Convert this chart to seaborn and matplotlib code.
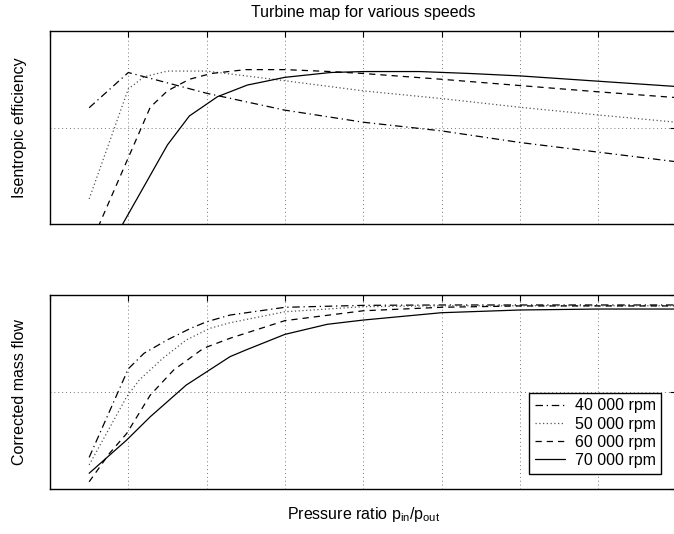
import numpy as np
import pandas as pd
import seaborn as sns
import matplotlib
matplotlib.use("Agg")
import matplotlib.pyplot as plt

# Dữ liệu (tỉ số áp suất -> hiệu suất / lưu lượng)
speeds = ["40 000 rpm", "50 000 rpm", "60 000 rpm", "70 000 rpm"]

eff_x_40 = [1.25, 1.5, 2.0, 2.5, 3.0, 3.5, 4.0, 4.5, 5.0]
eff_y_40 = [0.641, 0.714, 0.671, 0.636, 0.611, 0.593, 0.569, 0.549, 0.529]
eff_x_50 = [1.25, 1.5, 1.6, 1.75, 2.0, 2.1, 2.5, 3.0, 3.5, 4.0, 4.5, 5.0]
eff_y_50 = [0.452, 0.68, 0.705, 0.717, 0.717, 0.713, 0.697, 0.676, 0.660, 0.642, 0.626, 0.611]
eff_x_60 = [1.25, 1.64, 1.75, 1.89, 2.03, 2.25, 2.5, 2.79, 3.0, 3.5, 4.0, 4.5, 5.0]
eff_y_60 = [0.351, 0.642, 0.676, 0.700, 0.712, 0.720, 0.720, 0.716, 0.712, 0.700, 0.687, 0.674, 0.662]
eff_x_70 = [1.25, 1.75, 1.89, 2.07, 2.26, 2.5, 2.79, 3.0, 3.36, 3.68, 4.0, 4.5, 5.0]
eff_y_70 = [0.277, 0.564, 0.624, 0.664, 0.688, 0.704, 0.714, 0.716, 0.716, 0.712, 0.707, 0.696, 0.685]

flow_x_40 = [1.25, 1.5, 1.6, 1.75, 1.9, 2.0, 2.15, 2.5, 3.0, 3.5, 4.0, 4.5, 5.0]
flow_y_40 = [0.162, 0.62, 0.70, 0.77, 0.83, 0.863, 0.898, 0.938, 0.948, 0.95, 0.95, 0.95, 0.95]
flow_x_50 = [1.25, 1.49, 1.57, 1.72, 1.87, 2.02, 2.15, 2.5, 3.0, 3.5, 4.0, 4.5, 5.0]
flow_y_50 = [0.123, 0.476, 0.562, 0.674, 0.769, 0.829, 0.858, 0.915, 0.941, 0.946, 0.946, 0.946, 0.946]
flow_x_60 = [1.25, 1.38, 1.49, 1.64, 1.79, 1.98, 2.15, 2.5, 3.0, 3.5, 4.0, 4.5, 5.0]
flow_y_60 = [0.036, 0.183, 0.286, 0.484, 0.614, 0.726, 0.778, 0.869, 0.920, 0.938, 0.945, 0.945, 0.945]
flow_x_70 = [1.25, 1.49, 1.64, 1.87, 2.15, 2.25, 2.5, 2.77, 3.0, 3.5, 4.0, 4.5, 5.0]
flow_y_70 = [0.080, 0.252, 0.372, 0.536, 0.683, 0.717, 0.798, 0.850, 0.872, 0.910, 0.924, 0.929, 0.929]

eff_x = [eff_x_40, eff_x_50, eff_x_60, eff_x_70]
eff_y = [eff_y_40, eff_y_50, eff_y_60, eff_y_70]
flow_x = [flow_x_40, flow_x_50, flow_x_60, flow_x_70]
flow_y = [flow_y_40, flow_y_50, flow_y_60, flow_y_70]

# Kiểu nét kiểu Matlab
styles = [(0, (6, 3, 1, 3)), (0, (1, 2)), (0, (5, 4)), "-"]
colors = ["black", "#555555", "black", "black"]

sns.set_theme(style="white")
plt.rcParams["font.family"] = ["Liberation Sans", "DejaVu Sans"]
plt.rcParams["mathtext.fontset"] = "custom"
plt.rcParams["mathtext.rm"] = "Liberation Sans"
plt.rcParams["mathtext.it"] = "Liberation Sans"
plt.rcParams["text.color"] = "black"
plt.rcParams["axes.labelcolor"] = "black"

fig = plt.figure(figsize=(6.74, 5.34), dpi=100)
ax1 = fig.add_axes([0.0742, 0.5805, 0.9294, 0.3614])
ax2 = fig.add_axes([0.0742, 0.0848, 0.9294, 0.3622])

for i in range(4):
    sns.lineplot(x=eff_x[i], y=eff_y[i], ax=ax1, color=colors[i], linewidth=0.9,
                 linestyle=styles[i], sort=False, estimator=None, legend=False)
    sns.lineplot(x=flow_x[i], y=flow_y[i], ax=ax2, color=colors[i], linewidth=0.9,
                 linestyle=styles[i], sort=False, estimator=None, label=speeds[i])

ax1.set_ylim(0.4, 0.8)
ax1.set_yticks([0.4, 0.6, 0.8])
ax2.set_ylim(0.0, 1.0)
ax2.set_yticks([0.0, 0.5, 1.0])

for ax in (ax1, ax2):
    ax.set_xlim(1.0, 5.0)
    ax.set_xticks(np.arange(1.0, 5.01, 0.5))
    ax.grid(True, color="#777777", linestyle=(0, (1, 3)), linewidth=0.7)
    ax.tick_params(direction="in", length=4, width=0.8, color="black",
                   top=True, right=True, labelbottom=False, labelleft=False)
    for s in ax.spines.values():
        s.set_color("black")
        s.set_linewidth(1.0)
    ax.set_xlabel("")

ax1.set_title("Turbine map for various speeds", fontsize=11.5, pad=10, color="black")
ax1.set_ylabel("Isentropic efficiency", fontsize=11.5)
ax1.yaxis.set_label_coords(-0.037, 0.5)

ax2.set_ylabel("Corrected mass flow", fontsize=11.5)
ax2.yaxis.set_label_coords(-0.037, 0.5)
ax2.set_xlabel("Pressure ratio p$_{\\mathrm{in}}$/p$_{\\mathrm{out}}$", fontsize=11.5)
ax2.xaxis.set_label_coords(0.5, -0.085)

leg = ax2.legend(loc="lower right", fontsize=11.5, frameon=True, fancybox=False,
                 edgecolor="black", framealpha=1, borderaxespad=0.95,
                 handlelength=1.9, handletextpad=0.6, labelspacing=0.2, borderpad=0.35)
leg.get_frame().set_linewidth(1.0)
for t in leg.get_texts():
    t.set_color("black")

fig.savefig("out.png", dpi=100)
